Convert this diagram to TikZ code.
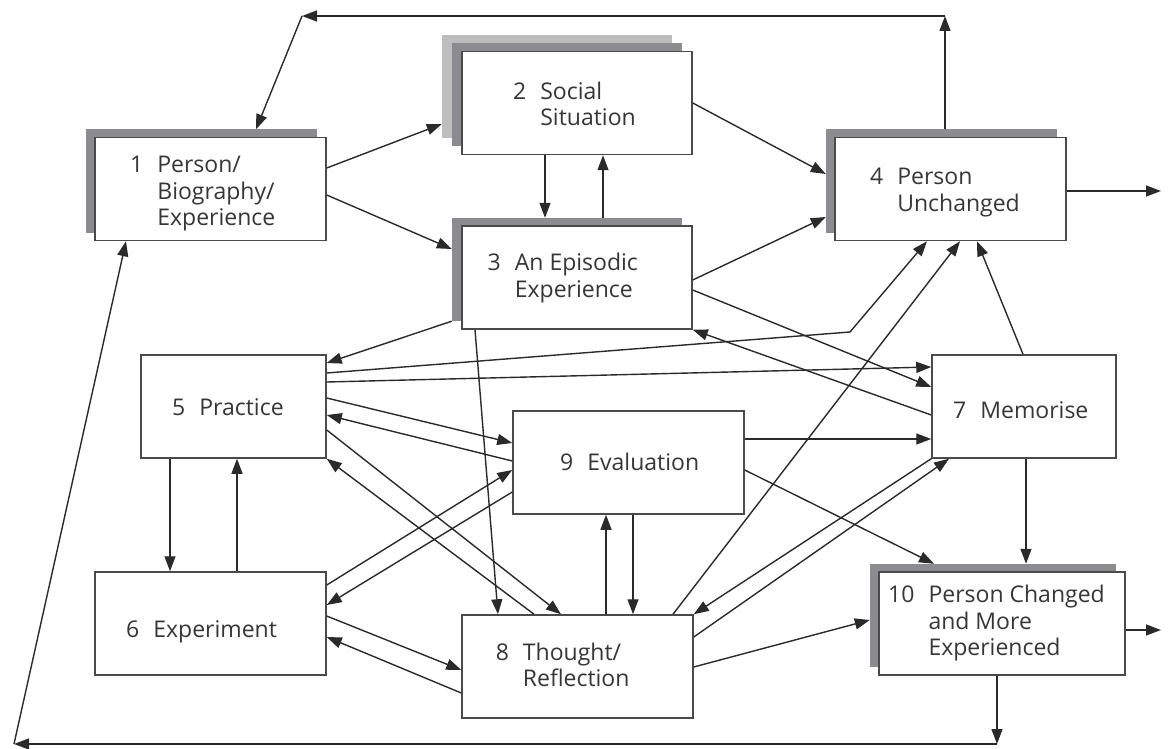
\documentclass[tikz,border=0pt]{standalone}
\usepackage{fontspec}
\setmainfont{Open Sans}
\usetikzlibrary{arrows.meta}
\definecolor{lc}{HTML}{2A2A2A}
\definecolor{bc}{HTML}{4A4A4A}
\definecolor{shd}{HTML}{8C8C90}
\definecolor{shl}{HTML}{BDBDBD}
\definecolor{tx}{HTML}{363636}
\begin{document}
\begin{tikzpicture}[x=1pt,y=-1pt,
  box/.style={draw=bc, line width=1.5pt, fill=white, inner sep=0pt, minimum height=103pt},
  shadowdark/.style={fill=shd, inner sep=0pt, minimum height=103pt},
  shadowlight/.style={fill=shl, inner sep=0pt, minimum height=103pt},
  lbl/.style={anchor=base west, inner sep=0pt, text=tx, font=\fontsize{23}{26.5}\selectfont},
  arr/.style={draw=lc, line width=1.4pt, -{Triangle[length=15pt,width=11pt]}}]
\useasboundingbox (0,0) rectangle (1168,749);

% shadows
\node[shadowlight, minimum width=230pt] (s2b) at (557,86.5) {};
\node[shadowdark, minimum width=230pt] (s2) at (567,95) {};
\node[shadowdark, minimum width=231pt] (s1) at (201.5,181) {};
\node[shadowdark, minimum width=230pt] (s3) at (567,269.5) {};
\node[shadowdark, minimum width=231pt] (s4) at (941.5,181) {};
\node[shadowdark, minimum width=246pt] (s10) at (993,615.5) {};

% boxes
\node[box, minimum width=231pt] (b1) at (210.5,189) {};
\node[box, minimum width=230pt] (b2) at (577,103) {};
\node[box, minimum width=230pt] (b3) at (577,277.5) {};
\node[box, minimum width=231pt] (b4) at (950.5,189) {};
\node[box, minimum width=185pt] (b5) at (233.5,406.5) {};
\node[box, minimum width=231pt] (b6) at (210.5,623.5) {};
\node[box, minimum width=184pt] (b7) at (1024,406.5) {};
\node[box, minimum width=231pt] (b8) at (577.5,666.5) {};
\node[box, minimum width=231pt] (b9) at (628.5,462.5) {};
\node[box, minimum width=246pt] (b10) at (1002,623.5) {};

% labels
\node[lbl] (t1) at (130,173) {\begin{tabular}[t]{@{}l@{\hspace{14pt}}l@{}}1&Person/\\&Biography/\\&Experience\end{tabular}};
\node[lbl] (t2) at (513,99.3) {\begin{tabular}[t]{@{}l@{\hspace{14pt}}l@{}}2&Social\\&Situation\end{tabular}};
\node[lbl] (t3) at (487.5,270.7) {\begin{tabular}[t]{@{}l@{\hspace{14pt}}l@{}}3&An Episodic\\&Experience\end{tabular}};
\node[lbl] (t4) at (870,185) {\begin{tabular}[t]{@{}l@{\hspace{14pt}}l@{}}4&Person\\&Unchanged\end{tabular}};
\node[lbl] (t5) at (172,415) {\begin{tabular}[t]{@{}l@{\hspace{14pt}}l@{}}5&Practice\end{tabular}};
\node[lbl] (t6) at (126,637) {\begin{tabular}[t]{@{}l@{\hspace{14pt}}l@{}}6&Experiment\end{tabular}};
\node[lbl] (t7) at (953,418) {\begin{tabular}[t]{@{}l@{\hspace{14pt}}l@{}}7&Memorise\end{tabular}};
\node[lbl] (t8) at (495.6,660) {\begin{tabular}[t]{@{}l@{\hspace{14pt}}l@{}}8&Thought/\\&Reflection\end{tabular}};
\node[lbl] (t9) at (560,470) {\begin{tabular}[t]{@{}l@{\hspace{14pt}}l@{}}9&Evaluation\end{tabular}};
\node[lbl] (t10) at (888,602.7) {\begin{tabular}[t]{@{}l@{\hspace{14pt}}l@{}}10&Person Changed\\&and More\\&Experienced\end{tabular}};

% free corner points
\coordinate (tr) at (945,16);
\coordinate (tl) at (302,16);
\coordinate (br) at (997,744);
\coordinate (bl) at (14,744);
\coordinate (k) at (850,332);
\coordinate (o4) at (1161,191);
\coordinate (o10) at (1161,630);

% outer loops
\draw[arr] (s4.north -| tr) -- (tr);
\draw[arr] (tr) -- (tl);
\draw[arr] (tl) -- (s1.north -| 256,0);
\draw[arr] (b10.south -| br) -- (br);
\draw[arr] (br) -- (bl);
\draw[arr] (bl) -- (b1.south -| 126,0);
\draw[arr] (b4.east |- o4) -- (o4);
\draw[arr] (b10.east |- o10) -- (o10);

% top part
\draw[arr] (b1.east |- 0,168) -- (s2b.west |- 0,124);
\draw[arr] (b1.east |- 0,195) -- (s3.west |- 0,249);
\draw[arr] (b2.south -| 545,0) -- (s3.north -| 545,0);
\draw[arr] (s3.north -| 603,0) -- (b2.south -| 603,0);
\draw[arr] (b2.east |- 0,103) -- (s4.west |- 0,174);
\draw[arr] (b3.east |- 0,280) -- (s4.west |- 0,217);
\draw[arr] (s3.south west) -- (b5.east |- 0,363);
\draw[arr] (b5.east |- 0,373) -- (k) -- (b4.south -| 927,0);
\draw[arr] (b5.east |- 0,382) -- (b7.west |- 0,367);
\draw[arr] (b3.east |- 0,290) -- (b7.west |- 0,387);
\draw[arr] (b7.west |- 0,415) -- (b3.south east);
\draw[arr] (b8.north -| 673,0) -- (b4.south -| 960,0);
\draw[arr] (b7.north -| 1023,0) -- (b4.south -| 977,0);
\draw[arr] (b7.south -| 1026,0) -- (s10.north -| 1026,0);

% middle part
\draw[arr] (b9.east |- 0,439) -- (b7.west |- 0,439);
\draw[arr] (b9.east |- 0,470) -- (s10.north -| 934,0);
\draw[arr] (b7.south west) -- (b8.north east);
\draw[arr] (b8.east |- 0,637) -- (b7.south -| 949,0);
\draw[arr] (b8.east |- 0,667) -- (s10.west |- 0,620);
\draw[arr] (b8.north -| 606,0) -- (b9.south -| 606,0);
\draw[arr] (b9.south -| 633,0) -- (b8.north -| 633,0);
\draw[arr] (b3.south -| 475,0) -- (b8.north -| 498,0);
\draw[arr] (b5.east |- 0,398) -- (b9.west |- 0,443);
\draw[arr] (b9.west |- 0,461) -- (b5.east |- 0,415);
\draw[arr] (b5.east |- 0,430) -- (b8.north -| 561,0);
\draw[arr] (b8.north -| 534,0) -- (b5.south east);
\draw[arr] (b6.east |- 0,585) -- (b9.west |- 0,470);
\draw[arr] (b9.west |- 0,492) -- (b6.east |- 0,605);
\draw[arr] (b6.east |- 0,616) -- (b8.west |- 0,670);
\draw[arr] (b8.west |- 0,693) -- (b6.east |- 0,637);
\draw[arr] (b5.south -| 170,0) -- (b6.north -| 170,0);
\draw[arr] (b6.north -| 237,0) -- (b5.south -| 237,0);
\end{tikzpicture}
\end{document}
